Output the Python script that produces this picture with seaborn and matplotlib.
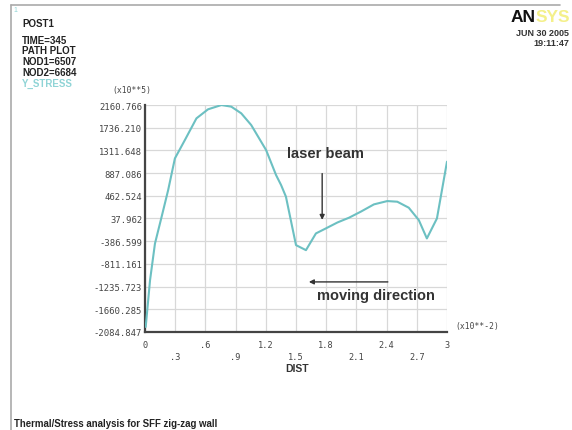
import matplotlib
matplotlib.use("Agg")
import matplotlib.pyplot as plt
import seaborn as sns
import pandas as pd

# ---- data ----
x_dist = [0.007, 0.05, 0.099, 0.165, 0.23, 0.297, 0.396, 0.511, 0.626, 0.759, 0.857,
          0.956, 1.055, 1.203, 1.302, 1.352, 1.40, 1.50, 1.599, 1.698, 1.797, 1.912,
          2.027, 2.143, 2.274, 2.407, 2.506, 2.62, 2.72, 2.80, 2.90, 3.0]
y_stress = [-1990, -1117, -430, 69, 569, 1162, 1505, 1911, 2080, 2160, 2130,
            2005, 1786, 1318, 850, 663, 446, -460, -554, -241, -147, -36,
            53, 165, 302, 364, 352, 240, 8, -335, 39, 1101]
y_ticks = [-2084.847, -1660.285, -1235.723, -811.161, -386.599, 37.962,
           462.524, 887.086, 1311.648, 1736.210, 2160.766]
y_tick_labels = ["-2084.847", "-1660.285", "-1235.723", "-811.161", "-386.599", "37.962",
                 "462.524", "887.086", "1311.648", "1736.210", "2160.766"]
x_ticks = [0, 0.3, 0.6, 0.9, 1.2, 1.5, 1.8, 2.1, 2.4, 2.7, 3.0]
x_tick_labels = ["0", ".3", ".6", ".9", "1.2", "1.5", "1.8", "2.1", "2.4", "2.7", "3"]
header_lines = ["TIME=345", "PATH PLOT", "NOD1=6507", "NOD2=6684"]

sns.set_style("white")
plt.rcParams['font.family'] = ['Liberation Sans', 'DejaVu Sans']

W, H = 572, 431
fig = plt.figure(figsize=(W / 100, H / 100), dpi=100)
ax = fig.add_axes([145 / W, 1 - 333 / H, (447 - 145) / W, (333 - 106) / H])

df = pd.DataFrame({"DIST": x_dist, "Y_STRESS": y_stress})
sns.lineplot(data=df, x="DIST", y="Y_STRESS", sort=False, ax=ax,
             color="#6cc0c2", linewidth=1.5, zorder=3)

ax.set_xlim(0, 3.0)
ax.set_ylim(y_ticks[0], y_ticks[-1])
ax.set_yticks(y_ticks)
ax.set_yticklabels(y_tick_labels, family="DejaVu Sans Mono", fontsize=6.4, color="#444444")
ax.set_xticks(x_ticks)
ax.set_xticklabels([])
ax.tick_params(axis="y", length=2, direction="in", pad=2, color="#444444")
ax.tick_params(axis="x", length=0)
ax.grid(True, color="#d8d8d8", linewidth=0.9)
ax.set_axisbelow(True)
for s in ["top", "right"]:
    ax.spines[s].set_visible(False)
for s in ["left", "bottom"]:
    ax.spines[s].set_color("#444444")
    ax.spines[s].set_linewidth(1.6)
ax.set_xlabel("")
ax.set_ylabel("")

# staggered x tick labels
for i, (t, lab) in enumerate(zip(x_ticks, x_tick_labels)):
    yoff = -0.055 if i % 2 == 0 else -0.11
    ax.text(t, yoff, lab, transform=ax.get_xaxis_transform(), ha="center", va="center",
            family="DejaVu Sans Mono", fontsize=6.2, color="#444444")

fig.text(297 / W, 1 - 369 / H, "DIST", ha="center", va="center", fontsize=7.5,
         fontweight="bold", color="#333333")
fig.text(455 / W, 1 - 327 / H, "(x10**-2)", ha="left", va="center",
         family="DejaVu Sans Mono", fontsize=5.8, color="#444444")
fig.text(132 / W, 1 - 90 / H, "(x10**5)", ha="center", va="center",
         family="DejaVu Sans Mono", fontsize=5.8, color="#444444")

# header
fig.text(22 / W, 1 - 24 / H, "POST1", ha="left", va="center", fontsize=7,
         fontweight="bold", color="#222222")
for i, line in enumerate(header_lines):
    fig.text(22 / W, 1 - (41 + i * 10.5) / H, line, ha="left", va="center",
             fontsize=7, fontweight="bold", color="#222222")
fig.text(22 / W, 1 - 84 / H, "Y_STRESS", ha="left", va="center", fontsize=7,
         fontweight="bold", color="#8fd4d6")

# ANSYS logo & date
sys_txt = fig.text(570 / W, 1 - 17 / H, "SYS", ha="right", va="center", fontsize=12.5,
                   fontweight="bold", color="#f4f08a")
fig.text(0, 0.5, "AN", transform=sys_txt.get_transform(), fontsize=12.5,
         fontweight="bold", color="#111111", ha="right", va="center", alpha=0)
fig.texts[-1].remove()
fig.add_artist(matplotlib.text.Annotation("AN", xy=(0, 0.5), xycoords=sys_txt,
                                          ha="right", va="center", fontsize=12.5,
                                          fontweight="bold", color="#111111"))
fig.text(569 / W, 1 - 34 / H, "JUN 30 2005", ha="right", va="center", fontsize=6.5,
         fontweight="bold", color="#333333")
fig.text(569 / W, 1 - 43 / H, "19:11:47", ha="right", va="center", fontsize=6.5,
         fontweight="bold", color="#333333")

# footer
fig.text(14 / W, 1 - 424 / H, "Thermal/Stress analysis for SFF zig-zag wall", ha="left",
         va="center", fontsize=6.9, fontweight="bold", color="#222222")

# frame lines
fig.add_artist(plt.Line2D([11 / W, 560 / W], [1 - 6 / H, 1 - 6 / H], color="#aaaaaa",
                          linewidth=1.2, transform=fig.transFigure))
fig.add_artist(plt.Line2D([11 / W, 11 / W], [1 - 6 / H, 0], color="#aaaaaa",
                          linewidth=1.2, transform=fig.transFigure))
fig.text(13 / W, 1 - 11 / H, "1", ha="left", va="center", fontsize=5, color="#8fd4d6")

# annotations
ax.text(1.79, 1256, "laser beam", ha="center", va="center", fontsize=10.5,
        fontweight="bold", color="#333333")
ax.annotate("", xy=(1.76, -40), xytext=(1.76, 930),
            arrowprops=dict(arrowstyle="-|>", color="#333333", lw=1.0, mutation_scale=7))
ax.text(2.29, -1398, "moving direction", ha="center", va="center", fontsize=10.5,
        fontweight="bold", color="#333333")
ax.annotate("", xy=(1.60, -1148), xytext=(2.44, -1148),
            arrowprops=dict(arrowstyle="-|>", color="#333333", lw=1.0, mutation_scale=7))

fig.savefig("out.png", dpi=100, facecolor="white")
